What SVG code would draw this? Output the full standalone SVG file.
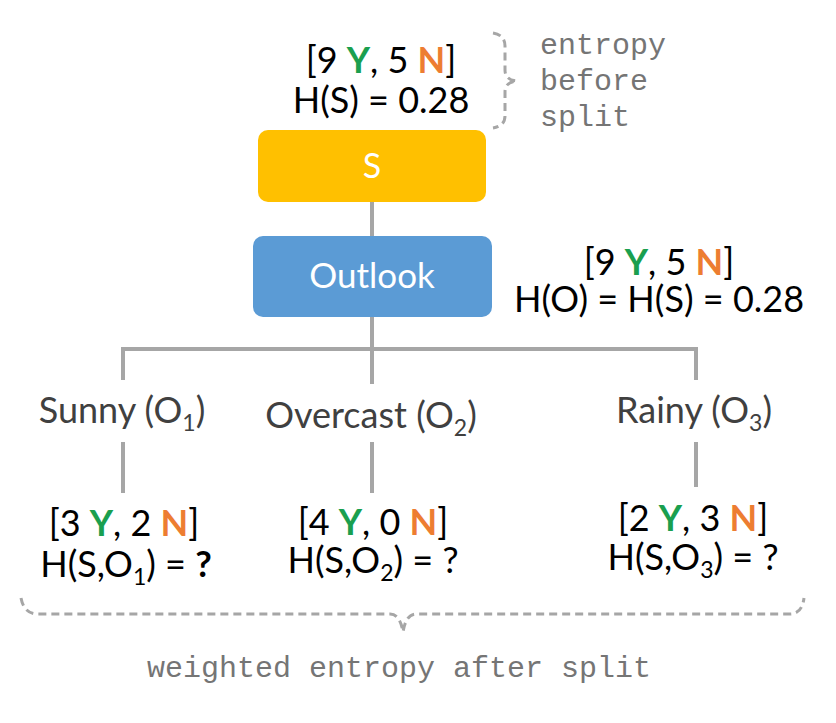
<svg xmlns="http://www.w3.org/2000/svg" width="836" height="723" viewBox="0 0 836 723">
<style>
.t{font-family:Lato,"Open Sans",sans-serif;font-size:36px;fill:#000;text-anchor:middle}
.lab{font-family:Lato,"Open Sans",sans-serif;font-size:36px;fill:#404040;text-anchor:middle}
.y{fill:#1a9f4f;font-weight:bold}
.n{fill:#ed7d31;font-weight:bold}
.sub{font-size:23px}
.mono{font-family:"Liberation Mono","DejaVu Sans Mono",monospace;font-size:30px;fill:#757575}
.edge{stroke:#a6a6a6;stroke-width:4;fill:none}
.brace{stroke:#a6a6a6;stroke-width:3;fill:none;stroke-dasharray:8 5}
.box{font-family:Lato,"Open Sans",sans-serif;fill:#fff;text-anchor:middle}
</style>
<rect width="836" height="723" fill="#fff"/>
<g id="connectors">
<line class="edge" x1="372" y1="202" x2="372" y2="236"/>
<line class="edge" x1="372" y1="317" x2="372" y2="384"/>
<polyline class="edge" points="123,380 123,349 696,349 696,380"/>
<line class="edge" x1="123" y1="442" x2="123" y2="493"/>
<line class="edge" x1="372" y1="442" x2="372" y2="493"/>
<line class="edge" x1="696" y1="442" x2="696" y2="487"/>
</g>
<g id="node-S">
<rect x="258" y="130" width="228" height="72" rx="10" fill="#ffc000"/>
<text class="box" x="372" y="178" font-size="34">S</text>
</g>
<g id="node-Outlook">
<rect x="253" y="236" width="239" height="81" rx="10" fill="#5b9bd5"/>
<text class="box" x="372" y="288" font-size="35">Outlook</text>
</g>
<g id="label-S">
<text class="t" x="381" y="73">[9 <tspan class="y">Y</tspan>, 5 <tspan class="n">N</tspan>]</text>
<text class="t" x="381" y="113">H(S) = 0.28</text>
</g>
<g id="label-O">
<text class="t" x="659" y="275">[9 <tspan class="y">Y</tspan>, 5 <tspan class="n">N</tspan>]</text>
<text class="t" x="659" y="312">H(O) = H(S) = 0.28</text>
</g>
<g id="branch-sunny">
<text class="lab" x="122" y="423">Sunny (O<tspan class="sub" dy="8">1</tspan><tspan dy="-8">)</tspan></text>
</g>
<g id="branch-overcast">
<text class="lab" x="371" y="428">Overcast (O<tspan class="sub" dy="8">2</tspan><tspan dy="-8">)</tspan></text>
</g>
<g id="branch-rainy">
<text class="lab" x="694" y="423">Rainy (O<tspan class="sub" dy="8">3</tspan><tspan dy="-8">)</tspan></text>
</g>
<g id="leaf-1">
<text class="t" x="124" y="536">[3 <tspan class="y">Y</tspan>, 2 <tspan class="n">N</tspan>]</text>
<text class="t" x="126" y="577">H(S,O<tspan class="sub" dy="8">1</tspan><tspan dy="-8">) = </tspan><tspan font-weight="bold">?</tspan></text>
</g>
<g id="leaf-2">
<text class="t" x="373" y="535">[4 <tspan class="y">Y</tspan>, 0 <tspan class="n">N</tspan>]</text>
<text class="t" x="373" y="573">H(S,O<tspan class="sub" dy="8">2</tspan><tspan dy="-8">) = ?</tspan></text>
</g>
<g id="leaf-3">
<text class="t" x="693" y="531">[2 <tspan class="y">Y</tspan>, 3 <tspan class="n">N</tspan>]</text>
<text class="t" x="693" y="570">H(S,O<tspan class="sub" dy="8">3</tspan><tspan dy="-8">) = ?</tspan></text>
</g>
<g id="brace-before">
<path class="brace" d="M493,33 Q505,35 505,46 L505,70 Q505,80 517,81 Q505,82 505,92 L505,116 Q505,126 493,128"/>
<text class="mono" x="540" y="54">entropy</text>
<text class="mono" x="540" y="90">before</text>
<text class="mono" x="540" y="126">split</text>
</g>
<g id="brace-after">
<path class="brace" d="M21,598 Q24,614 38,614 L390,614 Q400,614 403,632 Q406,614 416,614 L790,614 Q802,614 804,598"/>
<text class="mono" x="399" y="677" text-anchor="middle" font-size="31">weighted entropy after split</text>
</g>
</svg>
